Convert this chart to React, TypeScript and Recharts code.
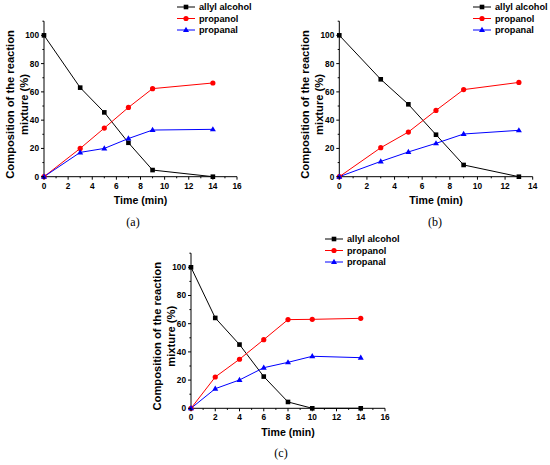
import React from 'react'
import { LineChart, Line, XAxis, YAxis, Legend } from 'recharts'

// series names, in legend order
const SERIES = ['allyl alcohol', 'propanol', 'propanal']
const COLORS = ['#000000', '#ff0000', '#0000ff']
const SHAPES = ['square', 'circle', 'triangle']

const yTicks = [0, 10, 20, 30, 40, 50, 60, 70, 80, 90, 100, 110]
const yLabels = [0, 20, 40, 60, 80, 100]

// (a)
const timeA = [0, 3, 5, 7, 9, 14]
const allylA = [100, 63, 45.5, 24, 4.7, 0]
const propanolA = [0, 20, 34.4, 49, 62.3, 66.3]
const propanalA = [0, 17.2, 20, 27, 33, 33.5]
const xTicksA = [0, 1, 2, 3, 4, 5, 6, 7, 8, 9, 10, 11, 12, 13, 14, 15, 16]
const xLabelsA = [0, 2, 4, 6, 8, 10, 12, 14, 16]

// (b)
const timeB = [0, 3, 5, 7, 9, 13]
const allylB = [100, 68.9, 51.2, 29.7, 8.3, 0]
const propanolB = [0, 20.5, 31.6, 46.9, 61.6, 66.7]
const propanalB = [0, 10.8, 17.5, 23.6, 30.2, 32.8]
const xTicksB = [0, 1, 2, 3, 4, 5, 6, 7, 8, 9, 10, 11, 12, 13, 14]
const xLabelsB = [0, 2, 4, 6, 8, 10, 12, 14]

// (c)
const timeC = [0, 2, 4, 6, 8, 10, 14]
const allylC = [100, 64.1, 45.2, 22.5, 4.5, 0, 0]
const propanolC = [0, 22.2, 34.8, 48.7, 62.9, 63.1, 63.8]
const propanalC = [0, 13.9, 20.1, 28.8, 32.6, 36.9, 35.9]
const xTicksC = xTicksA
const xLabelsC = xLabelsA

const SANS = '"Liberation Sans", Arial, sans-serif'
const SERIF = '"Liberation Serif", "Times New Roman", serif'

const Marker = ({ shape, cx, cy, color }: any) => {
  if (shape === 'square')
    return <rect x={cx - 2.3} y={cy - 2.3} width={4.6} height={4.6} fill={color} />
  if (shape === 'circle') return <circle cx={cx} cy={cy} r={2.6} fill={color} />
  return (
    <polygon
      points={`${cx},${cy - 3.2} ${cx + 3},${cy + 2} ${cx - 3},${cy + 2}`}
      fill={color}
    />
  )
}

const XTick = ({ x, y, payload, labels }: any) => {
  const axisY = y - 6
  const major = labels.includes(payload.value)
  return (
    <g>
      <line x1={x} x2={x} y1={axisY} y2={axisY + (major ? 3 : 1.6)} stroke="#000" />
      {major && (
        <text x={x} y={y} dy="0.72em" textAnchor="middle" fontSize={8.3} fontWeight="bold" fontFamily={SANS} fill="#000">
          {payload.value}
        </text>
      )}
    </g>
  )
}

const YTick = ({ x, y, payload }: any) => {
  const axisX = x + 5
  const major = yLabels.includes(payload.value)
  return (
    <g>
      <line x1={axisX - (major ? 3 : 1.6)} x2={axisX} y1={y} y2={y} stroke="#000" />
      {major && (
        <text x={x} y={y} dy="0.35em" textAnchor="end" fontSize={8.3} fontWeight="bold" fontFamily={SANS} fill="#000">
          {payload.value}
        </text>
      )}
    </g>
  )
}

const XTitle = ({ viewBox, caption, captionDx }: any) => {
  const cx = viewBox.x + viewBox.width / 2
  return (
    <g>
      <text x={cx} y={viewBox.y + 27.7} textAnchor="middle" fontSize={10.6} fontWeight="bold" fontFamily={SANS} fill="#000">
        Time (min)
      </text>
      <text x={cx + captionDx} y={viewBox.y + 49} textAnchor="middle" fontSize={12} fontFamily={SERIF} fill="#000">
        {caption}
      </text>
    </g>
  )
}

const YTitle = ({ viewBox }: any) => {
  const cy = viewBox.y + viewBox.height / 2 + 5.5
  return (
    <g fontFamily={SANS} fontWeight="bold" fontSize={11.2} fill="#000" textAnchor="middle">
      <text transform={`translate(${viewBox.x + 13.6},${cy}) rotate(-90)`}>Composition of the reaction</text>
      <text transform={`translate(${viewBox.x + 27.6},${cy}) rotate(-90)`}>mixture (%)</text>
    </g>
  )
}

const LegendBox = ({ payload }: any) => {
  const items = [...(payload || [])].sort(
    (a: any, b: any) => SERIES.indexOf(a.value) - SERIES.indexOf(b.value)
  )
  return (
    <svg width={110} height={36} style={{ display: 'block' }}>
      {items.map((e: any, i: number) => (
        <g key={e.value} transform={`translate(0, ${6 + i * 11.5})`}>
          <line x1={0} x2={18} y1={0} y2={0} stroke={e.color} strokeWidth={1} />
          <Marker shape={SHAPES[SERIES.indexOf(e.value)]} cx={9} cy={0} color={e.color} />
          <text x={22} y={3.3} fontSize={9.2} fontWeight="bold" fontFamily={SANS} fill="#000">
            {e.value}
          </text>
        </g>
      ))}
    </svg>
  )
}

function Panel({
  left, top, width, height, margin, yAxisWidth, xMax, xTicks, xLabels,
  time, allyl, propanol, propanal, caption, captionDx
}: any) {
  const data = time.map((t: number, i: number) => ({
    t,
    [SERIES[0]]: allyl[i],
    [SERIES[1]]: propanol[i],
    [SERIES[2]]: propanal[i]
  }))
  const plotRight = width - margin.right
  return (
    <div style={{ position: 'absolute', left, top }}>
      <LineChart width={width} height={height} data={data} margin={margin}>
        <XAxis
          type="number"
          dataKey="t"
          domain={[0, xMax]}
          ticks={xTicks}
          interval={0}
          tickLine={false}
          tickSize={3}
          tickMargin={3}
          height={30}
          axisLine={{ stroke: '#000' }}
          tick={<XTick labels={xLabels} />}
          label={<XTitle caption={caption} captionDx={captionDx} />}
        />
        <YAxis
          type="number"
          domain={[0, 110]}
          ticks={yTicks}
          interval={0}
          width={yAxisWidth}
          tickLine={false}
          tickSize={3}
          tickMargin={2}
          axisLine={{ stroke: '#000' }}
          tick={<YTick />}
          label={<YTitle />}
        />
        {SERIES.map((name, i) => (
          <Line
            key={name}
            type="linear"
            dataKey={name}
            name={name}
            stroke={COLORS[i]}
            strokeWidth={1}
            isAnimationActive={false}
            dot={(p: any) => (
              <Marker key={`${name}-${p.index}`} shape={SHAPES[i]} cx={p.cx} cy={p.cy} color={COLORS[i]} />
            )}
            activeDot={false}
          />
        ))}
        <Legend
          layout="vertical"
          align="center"
          verticalAlign="middle"
          content={<LegendBox />}
          wrapperStyle={{ left: plotRight - 60, top: margin.top - 20.7, width: 110, height: 36 }}
        />
      </LineChart>
    </div>
  )
}

export default function App() {
  return (
    <div style={{ position: 'absolute', left: 0, top: 0, width: 550, height: 465, background: '#fff' }}>
      <Panel
        left={0} top={0} width={275} height={230}
        margin={{ top: 21.2, right: 38, bottom: 23.3, left: 0 }}
        yAxisWidth={44}
        xMax={16} xTicks={xTicksA} xLabels={xLabelsA}
        time={timeA} allyl={allylA} propanol={propanolA} propanal={propanalA}
        caption="(a)" captionDx={-7.5}
      />
      <Panel
        left={295} top={0} width={255} height={230}
        margin={{ top: 21.2, right: 17.3, bottom: 23.3, left: 0 }}
        yAxisWidth={44.3}
        xMax={14} xTicks={xTicksB} xLabels={xLabelsB}
        time={timeB} allyl={allylB} propanol={propanolB} propanal={propanalB}
        caption="(b)" captionDx={-1}
      />
      <Panel
        left={147} top={230} width={275} height={235}
        margin={{ top: 23.2, right: 37, bottom: 26.7, left: 0 }}
        yAxisWidth={44}
        xMax={16} xTicks={xTicksC} xLabels={xLabelsC}
        time={timeC} allyl={allylC} propanol={propanolC} propanal={propanalC}
        caption="(c)" captionDx={-7}
      />
    </div>
  )
}
